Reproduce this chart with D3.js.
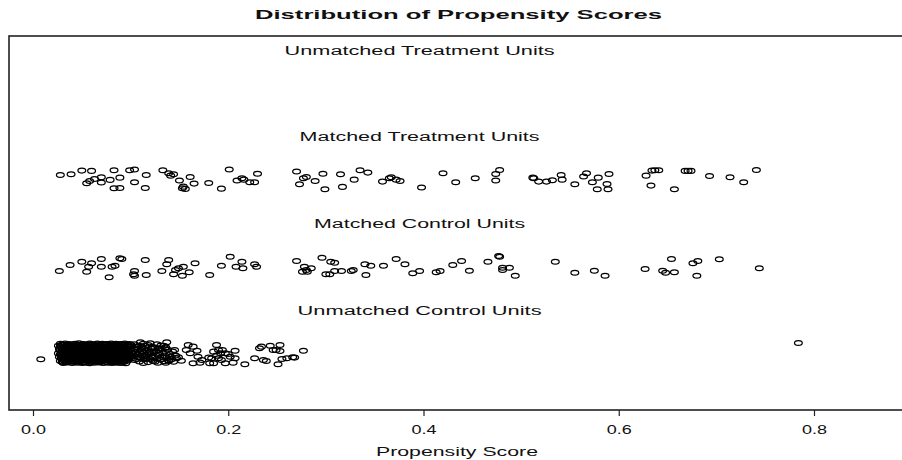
<!DOCTYPE html>
<html>
<head>
<meta charset="utf-8">
<script src="https://cdn.jsdelivr.net/npm/d3@7"></script>
<style>
  html, body { margin: 0; padding: 0; background: #fff; }
  svg { display: block; }
</style>
</head>
<body>
<div id="chart"></div>
<script>
// Jitter plot of propensity scores (MatchIt style)
// each point: [propensity score, jittered y level]

const groupLabels = ["Unmatched Control Units", "Matched Control Units",
                     "Matched Treatment Units", "Unmatched Treatment Units"];
const groupLevels = [1, 2, 3, 4];
const labelScore = 0.396;
const xTicks = [0, 0.2, 0.4, 0.6, 0.8];

const matchedTreatment = [
  [0.028,3.055],[0.039,3.064],[0.050,3.105],[0.060,3.102],[0.083,3.110],[0.099,3.110],[0.104,3.117],
  [0.116,3.055],[0.133,3.110],[0.139,3.075],[0.144,3.064],[0.141,3.047],[0.150,2.990],[0.161,3.032],
  [0.055,2.960],[0.058,2.986],[0.063,3.009],[0.070,3.029],[0.070,2.967],[0.079,2.998],[0.089,3.024],
  [0.104,2.971],[0.083,2.902],[0.089,2.905],[0.115,2.905],[0.154,2.920],[0.153,2.902],[0.156,2.894],
  [0.165,2.955],[0.180,2.963],[0.193,2.897],[0.201,3.117],[0.209,2.990],[0.214,3.017],[0.216,3.001],
  [0.222,2.971],[0.227,2.971],[0.230,3.070],[0.270,3.094],[0.277,3.017],[0.280,3.032],[0.289,2.986],
  [0.297,3.070],[0.299,2.890],[0.315,3.064],[0.317,2.917],[0.329,3.001],[0.335,3.110],[0.343,3.082],
  [0.358,2.978],[0.365,3.017],[0.367,3.029],[0.372,3.001],[0.273,2.948],[0.376,2.986],[0.398,2.909],
  [0.420,3.075],[0.433,2.971],[0.453,3.017],[0.474,3.067],[0.478,3.113],[0.474,2.990],[0.512,3.024],
  [0.513,3.017],[0.518,2.978],[0.526,2.978],[0.532,2.994],[0.541,3.055],[0.542,3.001],[0.555,2.948],
  [0.564,3.036],[0.567,3.075],[0.573,2.971],[0.579,3.024],[0.578,2.890],[0.588,2.951],[0.589,2.890],
  [0.590,3.067],[0.628,3.047],[0.634,3.105],[0.637,3.110],[0.641,3.110],[0.633,2.932],[0.657,2.890],
  [0.668,3.102],[0.671,3.102],[0.674,3.102],[0.693,3.044],[0.714,3.029],[0.728,2.971],[0.741,3.113]
];

const matchedControl = [
  [0.027,1.946],[0.038,2.015],[0.050,2.053],[0.057,1.995],[0.055,1.938],[0.060,2.035],[0.070,2.084],
  [0.070,1.995],[0.081,1.995],[0.084,2.007],[0.078,1.873],[0.089,2.092],[0.091,2.084],[0.104,1.946],
  [0.103,1.908],[0.104,1.891],[0.115,2.073],[0.116,1.900],[0.132,1.946],[0.139,2.073],[0.137,2.023],
  [0.146,1.957],[0.149,1.977],[0.154,1.995],[0.144,1.908],[0.153,1.891],[0.160,1.931],[0.166,2.035],
  [0.181,1.900],[0.193,2.007],[0.202,2.111],[0.208,1.995],[0.214,2.053],[0.215,1.977],[0.227,2.023],
  [0.229,1.995],[0.270,2.061],[0.278,1.995],[0.280,1.957],[0.285,1.977],[0.276,1.938],[0.281,1.938],
  [0.296,2.099],[0.305,2.053],[0.309,2.042],[0.300,1.908],[0.304,1.908],[0.309,1.946],[0.316,1.946],
  [0.326,1.946],[0.328,1.957],[0.341,1.900],[0.340,2.023],[0.346,2.007],[0.359,2.007],[0.372,2.084],
  [0.381,2.023],[0.389,1.919],[0.396,1.946],[0.413,1.931],[0.417,1.946],[0.430,2.015],[0.439,2.061],
  [0.447,1.949],[0.466,2.053],[0.477,2.119],[0.478,2.111],[0.481,1.984],[0.481,1.957],[0.488,1.984],
  [0.494,1.891],[0.535,2.053],[0.555,1.926],[0.575,1.949],[0.586,1.891],[0.627,1.969],[0.645,1.949],
  [0.648,1.926],[0.657,1.931],[0.654,2.084],[0.676,2.035],[0.681,2.061],[0.680,1.891],[0.703,2.081],
  [0.744,1.977]
];

const unmatchedControl = [
  // dense core
  [0.028,1.104],[0.033,1.108],[0.037,1.101],[0.043,1.106],[0.047,1.110],[0.052,1.103],[0.058,1.107],[0.061,1.100],
  [0.066,1.109],[0.071,1.104],[0.076,1.102],[0.080,1.108],[0.085,1.105],[0.090,1.101],[0.094,1.107],[0.099,1.103],
  [0.030,1.095],[0.035,1.093],[0.041,1.097],[0.046,1.094],[0.050,1.096],[0.056,1.092],[0.060,1.097],[0.065,1.095],
  [0.069,1.093],[0.074,1.096],[0.079,1.094],[0.084,1.092],[0.088,1.097],[0.093,1.095],[0.097,1.093],
  [0.026,1.083],[0.031,1.088],[0.036,1.081],[0.040,1.086],[0.045,1.084],[0.049,1.089],[0.055,1.082],[0.059,1.087],
  [0.064,1.085],[0.068,1.080],[0.073,1.088],[0.078,1.083],[0.083,1.086],[0.087,1.081],[0.092,1.089],[0.097,1.084],[0.101,1.087],
  [0.028,1.073],[0.032,1.071],[0.039,1.075],[0.042,1.072],[0.047,1.074],[0.052,1.070],[0.056,1.076],[0.061,1.073],
  [0.066,1.071],[0.071,1.075],[0.074,1.072],[0.080,1.074],[0.085,1.070],[0.089,1.075],[0.094,1.073],[0.099,1.071],
  [0.029,1.060],[0.034,1.065],[0.038,1.059],[0.044,1.063],[0.048,1.066],[0.053,1.061],[0.057,1.064],[0.062,1.058],
  [0.067,1.062],[0.070,1.067],[0.075,1.060],[0.081,1.063],[0.084,1.059],[0.089,1.065],[0.095,1.061],[0.098,1.064],
  [0.030,1.051],[0.035,1.049],[0.040,1.053],[0.043,1.050],[0.049,1.052],[0.053,1.048],[0.058,1.054],[0.063,1.051],
  [0.067,1.049],[0.072,1.053],[0.076,1.050],[0.081,1.052],[0.086,1.048],[0.090,1.053],[0.095,1.051],
  [0.027,1.041],[0.032,1.037],[0.036,1.043],[0.041,1.039],[0.046,1.044],[0.051,1.038],[0.054,1.042],[0.060,1.036],
  [0.065,1.040],[0.069,1.045],[0.074,1.038],[0.077,1.042],[0.082,1.037],[0.088,1.043],[0.091,1.039],[0.096,1.041],[0.100,1.036],
  [0.028,1.029],[0.033,1.027],[0.038,1.031],[0.042,1.028],[0.047,1.030],[0.051,1.026],[0.055,1.032],[0.061,1.029],
  [0.064,1.027],[0.068,1.031],[0.073,1.028],[0.078,1.030],[0.083,1.026],[0.087,1.031],[0.092,1.029],[0.097,1.027],
  [0.030,1.017],[0.035,1.021],[0.039,1.015],[0.044,1.019],[0.049,1.022],[0.052,1.016],[0.057,1.020],[0.063,1.014],
  [0.066,1.018],[0.071,1.023],[0.076,1.016],[0.079,1.020],[0.086,1.015],[0.090,1.019],[0.093,1.022],[0.098,1.017],
  [0.029,1.006],[0.034,1.004],[0.039,1.008],[0.044,1.005],[0.048,1.007],[0.053,1.003],[0.058,1.009],[0.062,1.006],
  [0.067,1.004],[0.071,1.008],[0.075,1.005],[0.081,1.007],[0.085,1.003],[0.089,1.008],[0.094,1.006],
  [0.026,0.994],[0.031,0.998],[0.037,0.992],[0.042,0.997],[0.045,0.993],[0.050,0.999],[0.056,0.995],[0.059,0.991],
  [0.064,0.996],[0.069,1.000],[0.073,0.993],[0.078,0.997],[0.083,0.992],[0.087,0.998],[0.092,0.994],[0.097,0.999],[0.101,0.993],
  [0.028,0.983],[0.033,0.981],[0.036,0.985],[0.041,0.982],[0.046,0.984],[0.051,0.980],[0.055,0.986],[0.060,0.983],
  [0.065,0.981],[0.070,0.985],[0.074,0.982],[0.079,0.984],[0.084,0.980],[0.088,0.985],[0.093,0.983],[0.098,0.981],
  [0.029,0.973],[0.033,0.969],[0.038,0.975],[0.043,0.970],[0.047,0.974],[0.053,0.968],[0.058,0.972],[0.061,0.976],
  [0.067,0.970],[0.072,0.974],[0.075,0.969],[0.080,0.975],[0.085,0.971],[0.089,0.967],[0.094,0.973],[0.099,0.970],
  [0.030,0.961],[0.035,0.959],[0.040,0.963],[0.044,0.960],[0.049,0.962],[0.053,0.958],[0.057,0.964],[0.063,0.961],
  [0.066,0.959],[0.071,0.963],[0.077,0.960],[0.081,0.962],[0.086,0.958],[0.090,0.963],[0.095,0.961],
  [0.027,0.951],[0.032,0.947],[0.036,0.953],[0.041,0.948],[0.046,0.952],[0.050,0.946],[0.055,0.950],[0.060,0.954],
  [0.064,0.948],[0.068,0.952],[0.074,0.946],[0.078,0.951],[0.082,0.955],[0.088,0.949],[0.091,0.953],[0.096,0.947],[0.100,0.951],
  [0.029,0.939],[0.034,0.937],[0.038,0.941],[0.043,0.938],[0.047,0.940],[0.052,0.936],[0.056,0.942],[0.061,0.939],
  [0.065,0.937],[0.070,0.941],[0.073,0.938],[0.079,0.940],[0.083,0.936],[0.087,0.941],[0.092,0.939],[0.097,0.937],
  [0.030,0.927],[0.034,0.931],[0.039,0.925],[0.044,0.929],[0.048,0.933],[0.053,0.926],[0.057,0.930],[0.062,0.924],
  [0.066,0.928],[0.071,0.932],[0.076,0.926],[0.080,0.930],[0.084,0.925],[0.090,0.929],[0.093,0.933],[0.098,0.927],
  [0.031,0.917],[0.036,0.915],[0.040,0.919],[0.045,0.916],[0.050,0.918],[0.054,0.914],[0.058,0.920],[0.063,0.917],
  [0.068,0.915],[0.072,0.919],[0.077,0.916],[0.082,0.918],[0.085,0.914],[0.091,0.919],[0.095,0.917],
  [0.028,0.905],[0.033,0.909],[0.037,0.903],[0.042,0.907],[0.046,0.904],[0.051,0.910],[0.056,0.906],[0.059,0.902],
  [0.065,0.907],[0.070,0.904],[0.073,0.909],[0.079,0.905],[0.083,0.901],[0.087,0.907],[0.092,0.903],[0.097,0.908],
  [0.030,0.895],[0.034,0.893],[0.039,0.897],[0.043,0.894],[0.048,0.896],[0.052,0.892],[0.057,0.898],[0.061,0.895],
  [0.066,0.893],[0.069,0.897],[0.075,0.894],[0.080,0.896],[0.084,0.892],[0.088,0.897],[0.093,0.895],
  [0.031,0.884],[0.035,0.888],[0.040,0.882],[0.045,0.886],[0.050,0.883],[0.054,0.887],[0.058,0.881],[0.063,0.885],
  [0.068,0.889],[0.072,0.883],[0.077,0.886],[0.081,0.882],[0.086,0.887],[0.090,0.884],[0.095,0.881],
  // thinner edge of the core
  [0.104,1.098],[0.109,1.083],[0.113,1.104],[0.118,1.090],[0.122,1.071],[0.127,1.100],[0.131,1.085],[0.136,1.064],
  [0.103,1.055],[0.107,1.040],[0.112,1.061],[0.116,1.029],[0.121,1.047],[0.126,1.022],[0.130,1.052],[0.138,1.036],[0.143,1.015],
  [0.105,1.010],[0.110,0.992],[0.114,1.003],[0.119,0.985],[0.124,1.006],[0.128,0.978],[0.133,0.996],[0.140,0.988],[0.146,0.970],
  [0.102,0.965],[0.108,0.951],[0.112,0.972],[0.117,0.940],[0.122,0.958],[0.127,0.933],[0.132,0.955],[0.137,0.944],[0.142,0.925],[0.149,0.948],
  [0.104,0.918],[0.109,0.900],[0.114,0.925],[0.118,0.893],[0.123,0.910],[0.128,0.887],[0.134,0.902],[0.139,0.915],[0.144,0.897],[0.152,0.909],
  [0.101,1.075],[0.106,1.068],[0.111,1.046],[0.115,1.078],[0.120,1.016],[0.125,1.058],[0.129,1.030],[0.134,1.081],
  [0.102,1.024],[0.107,0.980],[0.111,1.018],[0.115,0.962],[0.119,1.004],[0.123,0.945],[0.129,0.998],[0.135,0.968],
  [0.101,0.937],[0.106,0.928],[0.110,0.945],[0.113,0.882],[0.120,0.925],[0.125,0.901],[0.131,0.923],[0.136,0.885],[0.141,0.955],
  // sparse tail
  [0.008,0.926],[0.194,1.033],[0.197,0.995],[0.207,1.025],[0.202,0.956],[0.207,0.938],[0.197,0.880],[0.217,0.868],
  [0.232,1.053],[0.243,1.083],[0.253,1.091],[0.246,1.033],[0.253,1.022],[0.227,0.938],[0.236,0.918],[0.239,0.906],
  [0.255,0.930],[0.260,0.938],[0.268,0.945],[0.251,0.868],[0.277,1.025],[0.159,1.091],[0.164,1.072],[0.157,1.033],
  [0.168,1.025],[0.161,0.995],[0.169,0.956],[0.164,0.880],[0.171,0.887],[0.188,1.091],[0.185,1.014],[0.192,0.995],
  [0.200,0.987],[0.183,0.938],[0.190,0.938],[0.185,0.880],[0.205,0.887],[0.234,1.072],[0.249,1.033],[0.266,0.949],
  [0.110,1.122],[0.120,1.111],[0.137,1.122],[0.135,1.053],[0.145,1.033],[0.147,0.938],[0.139,0.906],[0.173,0.918],
  [0.180,0.945],[0.188,0.968],[0.181,0.880],[0.193,0.918],[0.190,1.033],[0.784,1.114]
];

const unmatchedTreatment = [];

const width = 902, height = 460;
const box = { left: 9, right: 908, top: 36, bottom: 410 };
const font = "'Liberation Sans', Arial, sans-serif";

const svg = d3.select("#chart").append("svg")
  .attr("width", width)
  .attr("height", height);

// scales
const x = d3.scaleLinear().domain([0, 0.8]).range([33, 814]);
const y = d3.scaleLinear().domain([0.34, 4.66]).range([box.bottom, box.top]);

// title
svg.append("text")
  .attr("x", 458.5).attr("y", 19)
  .attr("text-anchor", "middle")
  .attr("textLength", 407).attr("lengthAdjust", "spacingAndGlyphs")
  .style("font-family", font).style("font-size", "13px").style("font-weight", "bold")
  .style("fill", "#111")
  .text("Distribution of Propensity Scores");

// plot box
svg.append("rect")
  .attr("x", box.left).attr("y", box.top)
  .attr("width", box.right - box.left).attr("height", box.bottom - box.top)
  .attr("fill", "none").attr("stroke", "#222").attr("stroke-width", 1.6);

// group labels
const labelWidths = [244, 211, 240, 270];
svg.selectAll(".grp-label")
  .data(groupLevels)
  .join("text")
  .attr("class", "grp-label")
  .attr("x", x(labelScore))
  .attr("y", d => y(d + 0.5))
  .attr("dy", "0.42em")
  .attr("text-anchor", "middle")
  .attr("textLength", (d, i) => labelWidths[i]).attr("lengthAdjust", "spacingAndGlyphs")
  .style("font-family", font).style("font-size", "12px")
  .style("fill", "#111")
  .text((d, i) => groupLabels[i]);

// points
const allPoints = [].concat(unmatchedControl, matchedControl, matchedTreatment, unmatchedTreatment);
svg.append("g")
  .selectAll("ellipse")
  .data(allPoints)
  .join("ellipse")
  .attr("cx", d => x(d[0]))
  .attr("cy", d => y(d[1]))
  .attr("rx", 3.9)
  .attr("ry", 2.4)
  .attr("fill", "none")
  .attr("stroke", "#000")
  .attr("stroke-width", 1.25);

// x axis
const xAxis = svg.append("g")
  .attr("transform", `translate(0, ${box.bottom})`)
  .call(d3.axisBottom(x).tickValues(xTicks).tickSize(6).tickFormat(d3.format(".1f")));
xAxis.select(".domain").remove();
xAxis.selectAll(".tick line").attr("stroke", "#222").attr("stroke-width", 1.2);
xAxis.selectAll(".tick text")
  .attr("y", 24).attr("dy", 0)
  .attr("textLength", 25).attr("lengthAdjust", "spacingAndGlyphs")
  .style("font-family", font).style("font-size", "12px")
  .style("fill", "#111");

svg.append("text")
  .attr("x", 457).attr("y", 456)
  .attr("text-anchor", "middle")
  .attr("textLength", 162).attr("lengthAdjust", "spacingAndGlyphs")
  .style("font-family", font).style("font-size", "12px")
  .style("fill", "#111")
  .text("Propensity Score");
</script>
</body>
</html>
